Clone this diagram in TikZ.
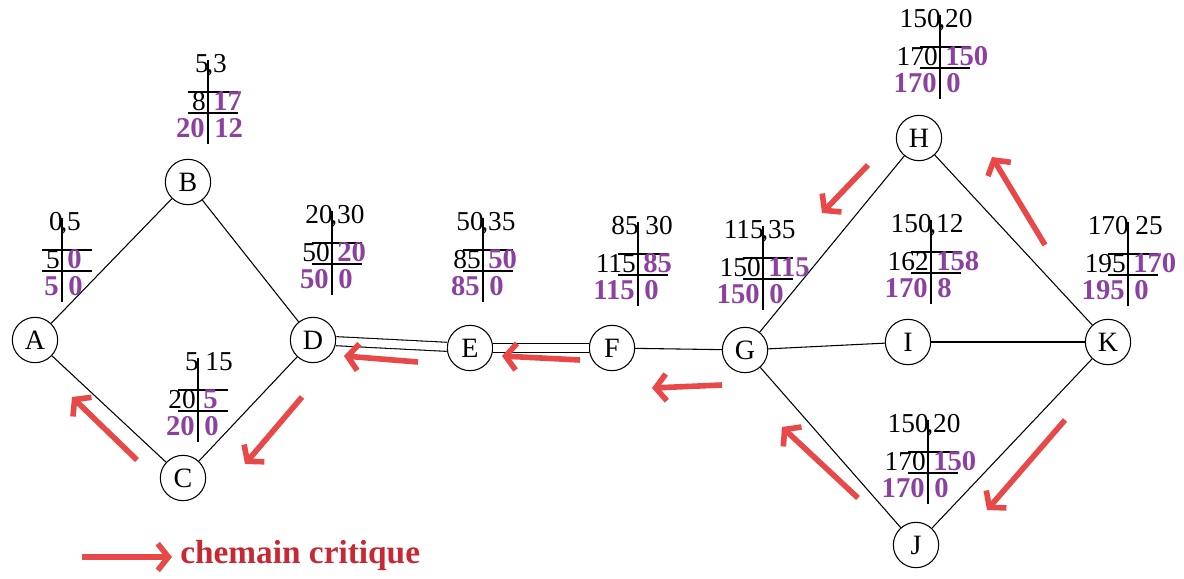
\documentclass[tikz,border=0pt]{standalone}
\usepackage{fontspec}
\setmainfont{Liberation Serif}
\usetikzlibrary{arrows.meta}
\definecolor{pur}{RGB}{140,65,160}
\definecolor{crit}{RGB}{232,72,72}
\definecolor{crittext}{RGB}{200,40,50}
\newcommand\tabl[8]{%
  \draw[line width=0.8pt] (#1,#2-12) -- (#1,#2+72);
  \draw[line width=0.8pt] (#1-20,#2+20) -- (#1+30,#2+20);
  \draw[line width=0.8pt] (#1-20,#2+41) -- (#1+30,#2+41);
  \node[blk,anchor=base east] at (#1+1,#2) {#3};
  \node[blk,anchor=base west] at (#1-2,#2) {#4};
  \node[blk,anchor=base east] at (#1-2,#2+38) {#5};
  \node[prp,anchor=base west] at (#1+5,#2+38) {#6};
  \node[prp,anchor=base east] at (#1-3,#2+65) {#7};
  \node[prp,anchor=base west] at (#1+6,#2+65) {#8};
}
\tikzset{
  evt/.style={draw,circle,line width=0.8pt,minimum size=34pt,inner sep=0pt,font=\fontsize{21}{24}\selectfont},
  blk/.style={inner sep=0pt,font=\fontsize{20.5}{22}\selectfont},
  prp/.style={inner sep=0pt,text=pur,font=\fontsize{21.5}{24}\selectfont\bfseries},
  edge/.style={line width=0.8pt},
  dbl/.style={double,double distance=6pt,line width=0.8pt},
  critarrow/.style={crit,line width=4.2pt,-{Straight Barb[length=8pt,width=20pt]}},
}
\begin{document}
\begin{tikzpicture}[x=0.75pt,y=-0.75pt]
\useasboundingbox (0,0) rectangle (1184,578);
% events
\node[evt] (A) at (35,340) {A};
\node[evt] (B) at (188,182) {B};
\node[evt] (C) at (183,478) {C};
\node[evt] (D) at (313,340) {D};
\node[evt] (E) at (470,348) {E};
\node[evt] (F) at (612,348) {F};
\node[evt] (G) at (745,350) {G};
\node[evt] (H) at (919,138) {H};
\node[evt] (I) at (908,342) {I};
\node[evt] (K) at (1108,342) {K};
\node[evt] (J) at (916,545) {J};
% edges
\draw[edge] (A) -- (B);
\draw[edge] (A) -- (C);
\draw[edge] (B) -- (D);
\draw[edge] (C) -- (D);
\draw[dbl] (D) -- (E);
\draw[dbl] (E) -- (F);
\draw[edge] (F) -- (G);
\draw[edge] (G) -- (H);
\draw[edge] (G) -- (I);
\draw[edge] (G) -- (J);
\draw[edge] (H) -- (K);
\draw[edge] (I) -- (K);
\draw[edge] (J) -- (K);
% tables
\tabl{62}{230}{0}{,5}{5}{0}{5}{0}
\tabl{208}{72}{5}{,3}{8}{17}{20}{12}
\tabl{198}{370}{5}{\,\,15}{20}{5}{20}{0}
\tabl{332}{223}{20}{,30}{50}{20}{50}{0}
\tabl{483}{230}{50}{,35}{85}{50}{85}{0}
\tabl{638}{234}{85}{\,\,30}{115}{85}{115}{0}
\tabl{763}{238}{115}{,35}{150}{115}{150}{0}
\tabl{940}{27}{150}{,20}{170}{150}{170}{0}
\tabl{931}{232}{150}{,12}{162}{158}{170}{8}
\tabl{1128}{234}{170}{\,\,25}{195}{170}{195}{0}
\tabl{928}{432}{150}{,20}{170}{150}{170}{0}
% critical path arrows
\draw[critarrow] (137,460) -- (72,397);
\draw[critarrow] (302,397) -- (245,464);
\draw[critarrow] (418,362) -- (344,356);
\draw[critarrow] (580,360) -- (502,356);
\draw[critarrow] (722,385) -- (652,388);
\draw[critarrow] (868,165) -- (822,213);
\draw[critarrow] (858,498) -- (782,427);
\draw[critarrow] (1045,245) -- (992,157);
\draw[critarrow] (1065,420) -- (987,510);
% legend
\coordinate (L1) at (82,557);
\coordinate (L2) at (172,557);
\draw[critarrow] (L1) -- (L2);
\node[anchor=west,inner sep=0pt,text=crittext,font=\fontsize{25}{27}\selectfont\bfseries] (leg) at (180,555) {chemain critique};
\end{tikzpicture}
\end{document}
